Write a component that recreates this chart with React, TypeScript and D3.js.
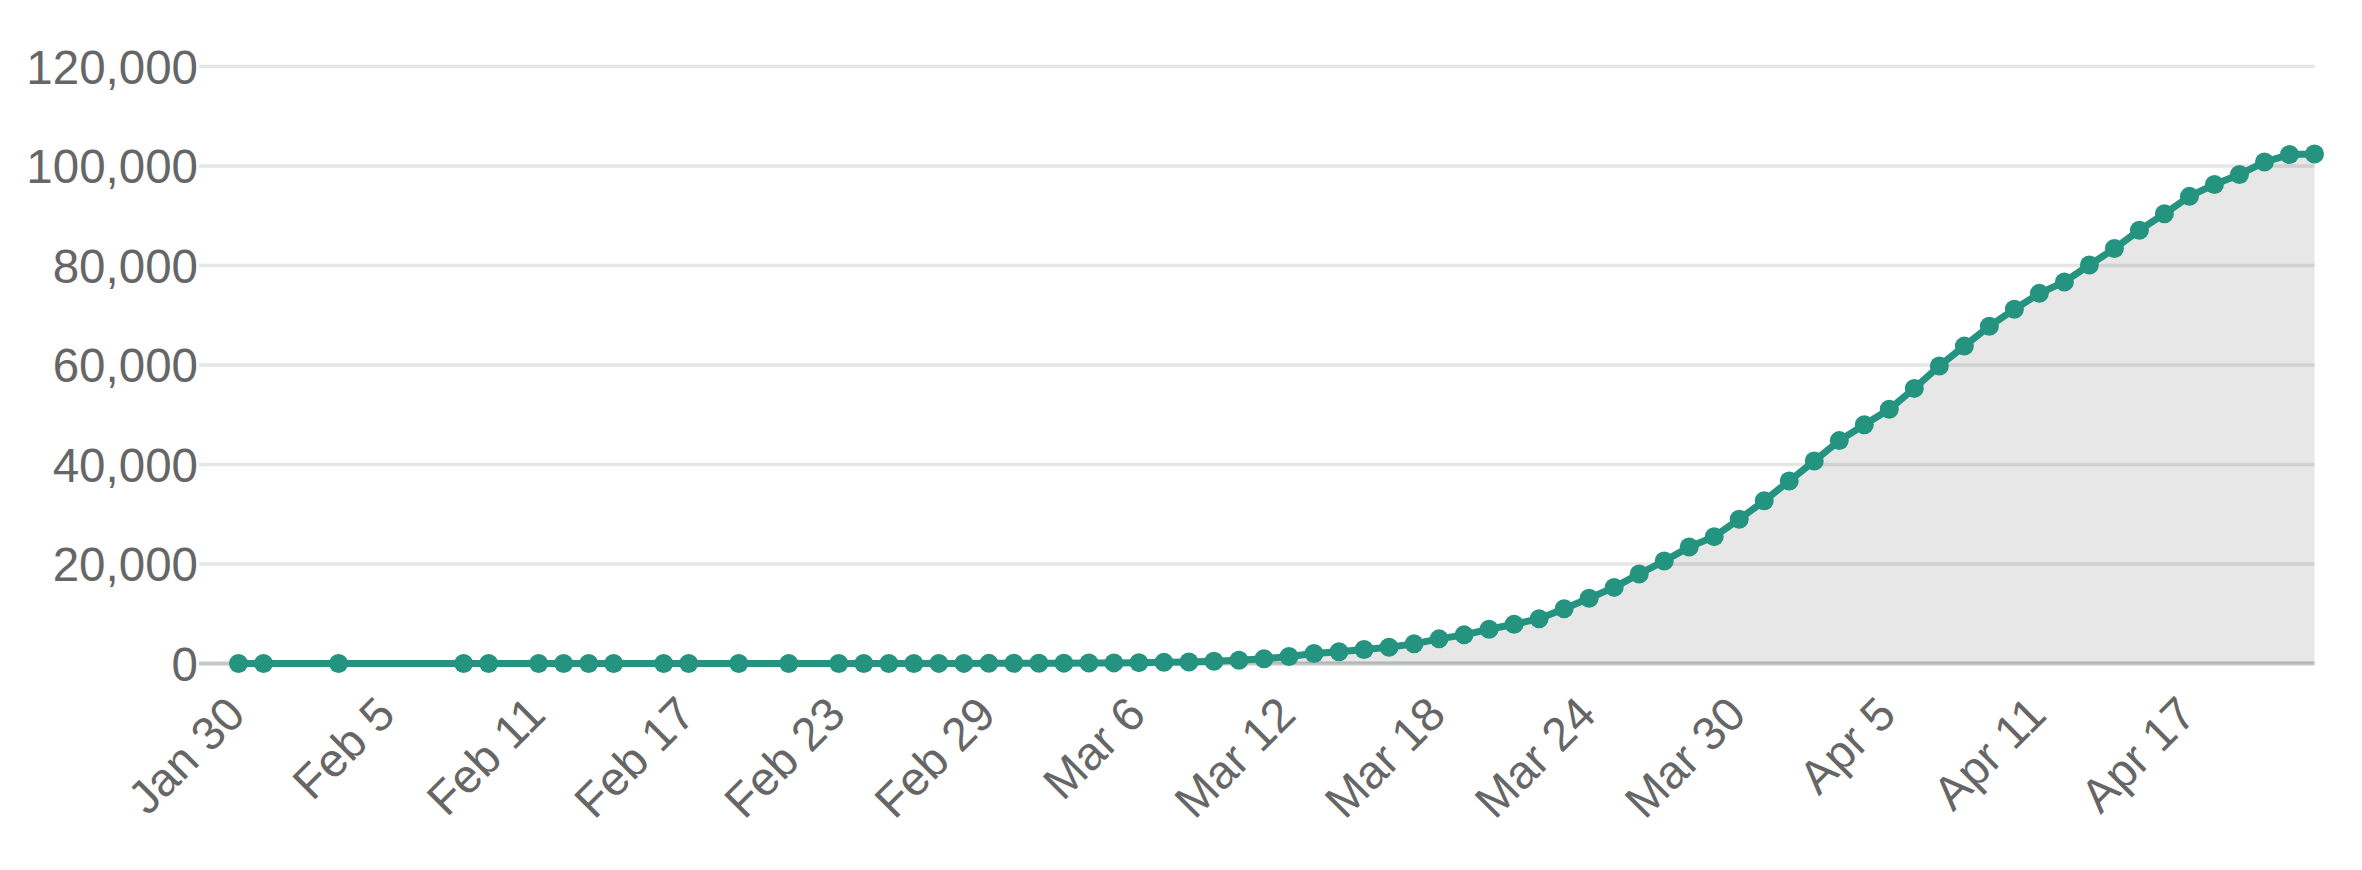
import React from "react";
import * as d3 from "d3";

const dates: string[] = [
  "2020-01-30", "2020-01-31", "2020-02-03", "2020-02-08", "2020-02-09", "2020-02-11", "2020-02-12",
  "2020-02-13", "2020-02-14", "2020-02-16", "2020-02-17", "2020-02-19", "2020-02-21",
  "2020-02-23", "2020-02-24", "2020-02-25", "2020-02-26", "2020-02-27", "2020-02-28", "2020-02-29",
  "2020-03-01", "2020-03-02", "2020-03-03", "2020-03-04", "2020-03-05", "2020-03-06", "2020-03-07",
  "2020-03-08", "2020-03-09", "2020-03-10", "2020-03-11", "2020-03-12", "2020-03-13", "2020-03-14",
  "2020-03-15", "2020-03-16", "2020-03-17", "2020-03-18", "2020-03-19", "2020-03-20", "2020-03-21",
  "2020-03-22", "2020-03-23", "2020-03-24", "2020-03-25", "2020-03-26", "2020-03-27", "2020-03-28",
  "2020-03-29", "2020-03-30", "2020-03-31", "2020-04-01", "2020-04-02", "2020-04-03", "2020-04-04",
  "2020-04-05", "2020-04-06", "2020-04-07", "2020-04-08", "2020-04-09", "2020-04-10", "2020-04-11",
  "2020-04-12", "2020-04-13", "2020-04-14", "2020-04-15", "2020-04-16", "2020-04-17", "2020-04-18",
  "2020-04-19", "2020-04-20", "2020-04-21", "2020-04-22",
];

const cases: number[] = [
  1, 1, 2, 3, 3, 4, 4,
  5, 5, 6, 6, 8, 9,
  12, 13, 15, 17, 20, 24, 30,
  40, 55, 70, 95, 125, 170, 230,
  320, 450, 650, 950, 1400, 2000, 2350,
  2800, 3270, 3950, 4950, 5760, 6880, 7900,
  9000, 11000, 13100, 15300, 18000, 20600, 23400,
  25500, 29000, 32700, 36700, 40700, 44800, 48000,
  51100, 55300, 59800, 63800, 67800, 71200, 74400,
  76700, 80100, 83400, 87100, 90400, 93900, 96300,
  98300, 100800, 102300, 102400,
];

const xTickDates: string[] = [
  "2020-01-30", "2020-02-05", "2020-02-11", "2020-02-17", "2020-02-23", "2020-02-29", "2020-03-06",
  "2020-03-12", "2020-03-18", "2020-03-24", "2020-03-30", "2020-04-05", "2020-04-11", "2020-04-17",
];
const xTickLabels: string[] = [
  "Jan 30", "Feb 5", "Feb 11", "Feb 17", "Feb 23", "Feb 29", "Mar 6",
  "Mar 12", "Mar 18", "Mar 24", "Mar 30", "Apr 5", "Apr 11", "Apr 17",
];
const yTicks: number[] = [0, 20000, 40000, 60000, 80000, 100000, 120000];

const W = 2362;
const H = 870;
const FONT = "'Liberation Sans', Arial, Helvetica, sans-serif";
const TEXT = "#666666";
const TEAL = "#24937f";

export default function App() {
  const parse = d3.utcParse("%Y-%m-%d");
  const data = dates.map((d, i) => ({ date: parse(d) as Date, value: cases[i] }));

  const x = d3
    .scaleUtc()
    .domain([data[0].date, data[data.length - 1].date])
    .range([238.5, 2314.5]);
  const y = d3.scaleLinear().domain([0, 120000]).range([663.5, 66.5]);

  const gridLeft = 199;
  const gridRight = x.range()[1];

  const line = d3
    .line<{ date: Date; value: number }>()
    .x((d) => x(d.date))
    .y((d) => y(d.value));
  const area = d3
    .area<{ date: Date; value: number }>()
    .x((d) => x(d.date))
    .y0(y(0))
    .y1((d) => y(d.value));
  const fmt = d3.format(",");

  return (
    <svg
      width={W}
      height={H}
      style={{ position: "absolute", left: 0, top: 0, background: "#ffffff" }}
      fontFamily={FONT}
    >
      {yTicks.map((t) => (
        <line
          key={"g" + t}
          x1={gridLeft}
          x2={gridRight}
          y1={y(t)}
          y2={y(t)}
          stroke={t === 0 ? "#c4c8c8" : "#e6e6e6"}
          strokeWidth={t === 0 ? 4 : 3.5}
        />
      ))}
      <path d={area(data) || ""} fill="rgba(0,0,0,0.095)" />
      {yTicks.map((t) => (
        <text
          key={"yl" + t}
          x={198}
          y={y(t)}
          dy="0.36em"
          textAnchor="end"
          fontSize={47.5}
          fill={TEXT}
        >
          {fmt(t)}
        </text>
      ))}
      <path d={line(data) || ""} fill="none" stroke={TEAL} strokeWidth={7} strokeLinejoin="round" />
      {data.map((d, i) => (
        <circle key={"c" + i} cx={x(d.date)} cy={y(d.value)} r={9.5} fill={TEAL} />
      ))}
      {xTickDates.map((s, i) => {
        const px = x(parse(s) as Date) + 9;
        const py = 717;
        return (
          <text
            key={"xl" + s}
            transform={`translate(${px},${py}) rotate(-45)`}
            textAnchor="end"
            fontSize={47}
            fill={TEXT}
          >
            {xTickLabels[i]}
          </text>
        );
      })}
    </svg>
  );
}
